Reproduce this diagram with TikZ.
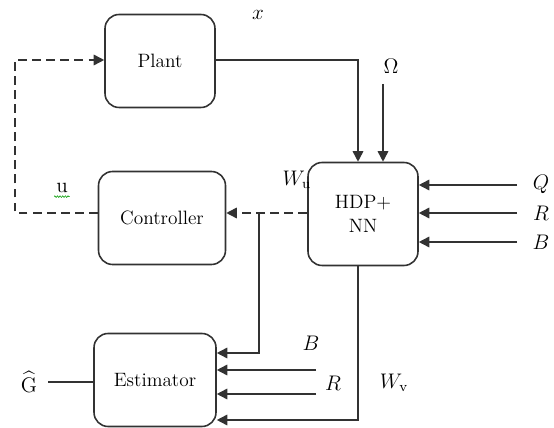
\documentclass[tikz,border=0pt]{standalone}
\usepackage{amsmath}
\usepackage{xcolor}
\usepackage{tikz}
\usetikzlibrary{arrows.meta, positioning, calc, decorations.pathmorphing}
\definecolor{linegray}{RGB}{50, 50, 50}

\begin{document}
\begin{tikzpicture}[
    x=0.02cm, y=-0.02cm,
    box/.style={rectangle, rounded corners=8pt, draw=linegray,
                line width=0.9pt, minimum width=2.2cm,
                minimum height=1.86cm, align=center,
                font=\fontsize{11}{14}\selectfont},
    arr/.style={-{Triangle[length=6pt, width=6pt]}, line width=0.9pt, linegray},
    darr/.style={arr, dashed, dash pattern=on 5pt off 3pt},
    line/.style={line width=0.9pt, linegray},
    lbl/.style={inner sep=1pt, font=\large}
]
\useasboundingbox (0,0) rectangle (554,428);

% Blocks
\node[box] (plant) at (160,61) {Plant};
\node[box, minimum width=2.54cm] (ctrl) at (162,218) {Controller};
\node[box, minimum height=2.06cm] (hdp) at (363,214) {HDP+\\NN};
\node[box, minimum width=2.44cm] (est) at (155,380) {Estimator};

% Labels
\node[lbl] (xlbl)  at (258,15)  {$x$};
\node[lbl] (omlbl) at (391,66)  {$\Omega$};
\node[lbl] (ulbl)  at (62,188)  {u};
\node[lbl] (wulbl) at (297,180) {$W_{\mathrm{u}}$};
\node[lbl] (qlbl)  at (541,184) {$Q$};
\node[lbl] (rlbl)  at (541,213) {$R$};
\node[lbl] (blbl)  at (541,242) {$B$};
\node[lbl] (b2lbl) at (311,343) {$B$};
\node[lbl] (r2lbl) at (333,383) {$R$};
\node[lbl] (wvlbl) at (394,383) {$W_{\mathrm{v}}$};
\node[lbl] (ghat)  at (29,382)  {$\widehat{\mathrm{G}}$};

% Points
\coordinate (om)   at (383,84);
\coordinate (qin)  at (517,185);
\coordinate (rin)  at (517,213);
\coordinate (bin)  at (517,242);
\coordinate (wu)   at (259,213);
\coordinate (uc)   at (15,60);
\coordinate (wuin) at (259,353);
\coordinate (b2in) at (316,370);
\coordinate (r2in) at (316,394);
\coordinate (wvc)  at (358,420);
\coordinate (gout) at (48,382);

% Arrows
\draw[arr] (plant.east |- uc) -| (wvc |- hdp.north);
\draw[arr] (om) -- (om |- hdp.north);
\draw[arr] (qin) -- (qin -| hdp.east);
\draw[arr] (rin) -- (rin -| hdp.east);
\draw[arr] (bin) -- (bin -| hdp.east);
\draw[darr] (hdp.west |- wu) -- (ctrl.east |- wu);
\draw[darr] (ctrl.west |- wu) -| (uc) -- (plant.west |- uc);
\draw[arr] (wu) -- (wuin) -- (est.east |- wuin);
\draw[arr] (b2in) -- (b2in -| est.east);
\draw[arr] (r2in) -- (r2in -| est.east);
\draw[arr] (wvc |- hdp.south) -- (wvc) -- (est.east |- wvc);
\draw[line] (gout) -- (est.west |- gout);
\draw[green!60!black, line width=0.3pt, decorate,
      decoration={zigzag, amplitude=0.5pt, segment length=1.5pt}]
      ([yshift=-1pt]ulbl.south west) -- ([yshift=-1pt]ulbl.south east);

\end{tikzpicture}
\end{document}
